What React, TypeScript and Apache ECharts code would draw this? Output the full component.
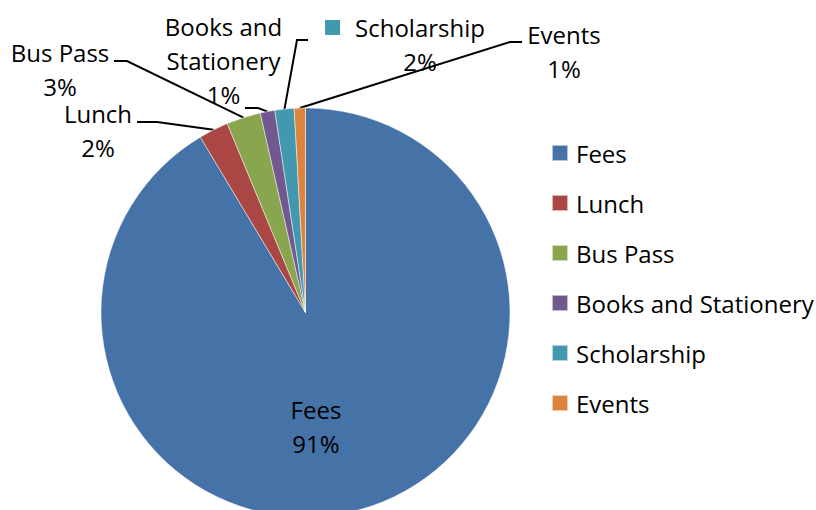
import React, { useEffect, useRef } from "react";
import * as echarts from "echarts";

const categories = ["Fees", "Lunch", "Bus Pass", "Books and Stationery", "Scholarship", "Events"];
const values = [91.4, 2.35, 2.7, 1.15, 1.52, 0.88];
const colors = ["#4572A7", "#AA4643", "#89A54E", "#71588F", "#4198AF", "#DB843D"];
const labelNames = ["Fees", "Lunch", "Bus Pass", "Books and\nStationery", "Scholarship", "Events"];

// label layout: centre of label text block, and leader-line elbow / end
const labelPos: [number, number][] = [
  [316, 426.5],
  [98, 130],
  [60, 69.5],
  [223.5, 60.5],
  [405, 44.5],
  [564, 51.5],
];
const lineElbow: ([number, number] | null)[] = [null, [157, 122], [127, 61], [258, 108], [297, 40], [510, 42]];
const lineEnd: ([number, number] | null)[] = [null, [137, 122], [114, 61], [245, 108], [308, 40], [522, 42]];

const FONT = "Open Sans";
const FS = 24;

export default function App() {
  const ref = useRef<HTMLDivElement>(null);
  useEffect(() => {
    if (!ref.current) return;
    const chart = echarts.init(ref.current, undefined, { renderer: "svg" });
    chart.setOption({
      animation: false,
      backgroundColor: "#ffffff",
      color: colors,
      legend: {
        orient: "vertical",
        left: 546,
        top: 136,
        itemWidth: 16,
        itemHeight: 16,
        itemGap: 26,
        icon: "rect",
        textStyle: { fontFamily: FONT, fontSize: FS, color: "#000", lineHeight: 20, padding: [0, 0, 0, 3] },
        data: categories,
      },
      series: [
        {
          type: "pie",
          center: [305.5, 312.5],
          radius: 204.5,
          startAngle: 90,
          clockwise: true,
          avoidLabelOverlap: false,
          itemStyle: { borderColor: "rgba(255,255,255,0.6)", borderWidth: 0.8 },
          label: {
            show: true,
            position: "outside",
            fontFamily: FONT,
            fontSize: FS,
            color: "#000",
            lineHeight: 34,
            align: "center",
            formatter: (p: any) => {
              const pct = Math.round(p.percent) + "%";
              const nm = labelNames[p.dataIndex];
              if (p.dataIndex === 4) return "{key|}{gap|}" + nm + "\n{sp|}" + pct;
              return nm + "\n" + pct;
            },
            rich: {
              key: { width: 15, height: 15, backgroundColor: colors[4] },
              gap: { width: 15 },
              sp: { width: 30 },
            },
          },
          labelLine: { show: true, length: 10, length2: 10, lineStyle: { color: "#000", width: 2 } },
          labelLayout: (params: any) => {
            const i = params.dataIndex;
            const res: any = {
              x: labelPos[i][0],
              y: labelPos[i][1],
              align: "center",
              verticalAlign: "middle",
            };
            const pts = params.labelLinePoints;
            if (i > 0 && pts && pts.length) {
              res.labelLinePoints = [pts[0], lineElbow[i], lineEnd[i]];
            }
            return res;
          },
          data: categories.map((c, i) =>
            i === 0
              ? { name: c, value: values[i], label: { position: "inside" }, labelLine: { show: false } }
              : { name: c, value: values[i] }
          ),
        },
      ],
    });
    return () => chart.dispose();
  }, []);
  return <div ref={ref} style={{ position: "fixed", left: 0, top: 0, width: 816, height: 510 }} />;
}
